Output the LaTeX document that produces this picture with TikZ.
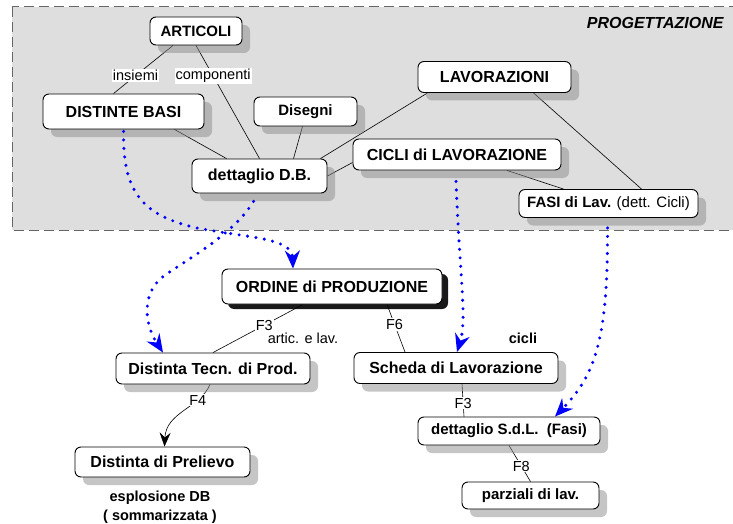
\documentclass[tikz,border=0pt]{standalone}
\usepackage{fontspec}
\setmainfont{Liberation Sans}
\usepackage{tikz}
\usetikzlibrary{arrows.meta,shadows,backgrounds}

\begin{document}
\begin{tikzpicture}[x=1pt, y=-1pt, >={Stealth[length=14pt,width=11pt,inset=5pt]},
    riquadro/.style={draw, line width=.9pt, rounded corners=6pt, fill=white, inner sep=2pt,
        font=\fontsize{16}{19}\selectfont\bfseries},
    archivio/.style={riquadro, drop shadow={shadow xshift=8pt, shadow yshift=-8pt, fill=black!45, opacity=.5}},
    ordine/.style={riquadro, drop shadow={shadow xshift=6pt, shadow yshift=-5pt, fill=black, opacity=.9}},
    piccolo/.style={font=\fontsize{15}{18}\selectfont\bfseries},
    etichetta/.style={font=\fontsize{14.5}{17}\selectfont, fill=white, inner sep=1pt},
    nota/.style={font=\fontsize{14.5}{19}\selectfont\bfseries, align=center},
    legame/.style={line width=.6pt},
    flusso/.style={->, >={Stealth[length=18pt,width=15pt,inset=6pt]}, blue, line width=3.4pt,
        line cap=round, dash pattern=on 0pt off 8.5pt}]
    \useasboundingbox (0,0) rectangle (733,524);

    % Nodes {progettazione}
    \node [archivio, piccolo, minimum width=92pt, minimum height=28pt]   (art)    at (196,31)      {ARTICOLI};
    \node [archivio, minimum width=161pt, minimum height=35pt]           (db)     at (123.5,111.5) {DISTINTE BASI};
    \node [archivio, piccolo, minimum width=103pt, minimum height=29pt]  (dis)    at (305.5,111.5) {Disegni};
    \node [archivio, minimum width=135pt, minimum height=34pt]           (dett)   at (259.5,176)   {dettaglio D.B.};
    \node [archivio, minimum width=153pt, minimum height=31pt]           (lav)    at (494.5,77)    {LAVORAZIONI};
    \node [archivio, minimum width=208pt, minimum height=31pt]           (cicli)  at (457,154.5)   {CICLI di LAVORAZIONE};
    \node [archivio, piccolo, minimum width=179pt, minimum height=28pt]  (fasi)   at (608.5,203.5) {FASI di Lav. \mdseries(dett. Cicli)};
    \node [font=\fontsize{16}{19}\selectfont\bfseries\itshape, anchor=east] (prog) at (727,23) {PROGETTAZIONE};

    % Nodes {produzione}
    \node [ordine, minimum width=220pt, minimum height=35pt]             (ord)    at (332,286.5)   {ORDINE di PRODUZIONE};
    \node [archivio, minimum width=194pt, minimum height=31pt]           (dtp)    at (213,368.5)   {Distinta Tecn. di Prod.};
    \node [archivio, minimum width=204pt, minimum height=31pt]           (sch)    at (456,368)     {Scheda di Lavorazione};
    \node [archivio, minimum width=175pt, minimum height=30pt]           (dpr)    at (162.5,462)   {Distinta di Prelievo};
    \node [archivio, piccolo, minimum width=182pt, minimum height=28pt]  (sdl)    at (509,431)     {dettaglio S.d.L.\ \ (Fasi)};
    \node [archivio, piccolo, minimum width=137pt, minimum height=27pt]  (par)    at (530.5,495.5) {parziali di lav.};
    \node [nota]                                                         (espl)   at (160,507)     {esplosione DB\\( sommarizzata )};
    \node [nota]                                                         (cic)    at (523,338)     {cicli};
    \node [font=\fontsize{14.5}{17}\selectfont]                          (artlav) at (303,338)     {artic. e lav.};

    \begin{pgfonlayer}{background}
    % area progettazione
    \path [fill=black!13, draw=black!60, line width=1pt, dash pattern=on 10pt off 5pt] (12,7) rectangle (745,230);

    % Paths
    \draw [legame] ([xshift=-23pt]art.south) -- node [etichetta, pos=.63] {insiemi} ([xshift=-10pt]db.north);
    \draw [legame] (art.south) -- node [etichetta, pos=.27] {componenti} (dett.north);
    \draw [legame] ([xshift=51pt]db.south) -- ([xshift=-33pt]dett.north);
    \draw [legame] ([xshift=-3pt]dis.south) -- ([xshift=34pt]dett.north);
    \draw [legame] ([xshift=-67pt]lav.south) -- ([xshift=61pt]dett.north);
    \draw [legame] ([yshift=-8pt]cicli.west) -- (dett.east);
    \draw [legame] ([xshift=50pt]cicli.south) -- ([xshift=-45pt]fasi.north);
    \draw [legame] ([xshift=39pt]lav.south) -- ([xshift=33pt]fasi.north);
    \draw [legame] ([xshift=-29pt]ord.south) -- node [etichetta, pos=.43] {F3} (dtp.north);
    \draw [legame] ([xshift=55pt]ord.south) -- node [etichetta, pos=.42] {F6} ([xshift=-51pt]sch.north);
    \draw [legame, ->] ([xshift=-3pt]dtp.south) .. controls (200,408) and (166,412) .. ([xshift=2pt]dpr.north)
        node [etichetta, pos=.27] {F4};
    \draw [legame] ([xshift=6pt]sch.south) -- node [etichetta, pos=.59] {F3} ([xshift=-45pt]sdl.north);
    \draw [legame] (sdl.south) -- node [etichetta, pos=.57] {F8} (par.north);
    \end{pgfonlayer}

    % Flussi
    \draw [flusso] ([yshift=-2pt]db.south) .. controls (123,190) and (140,215) .. (197,228)
        .. controls (250,238) and (292,238) .. ([xshift=-39pt]ord.north);
    \draw [flusso] ([xshift=-6pt, yshift=-8pt]dett.south) .. controls (235,232) and (195,255) .. (165,275)
        .. controls (140,293) and (145,325) .. ([xshift=-50pt]dtp.north);
    \draw [flusso] ([xshift=-1pt, yshift=-11pt]cicli.south) .. controls (460,280) and (467,320) .. ([xshift=1pt]sch.north);
    \draw [flusso] ([xshift=-1pt, yshift=-10pt]fasi.south) .. controls (608,340) and (595,375) .. ([xshift=46pt]sdl.north);

\end{tikzpicture}
\end{document}
